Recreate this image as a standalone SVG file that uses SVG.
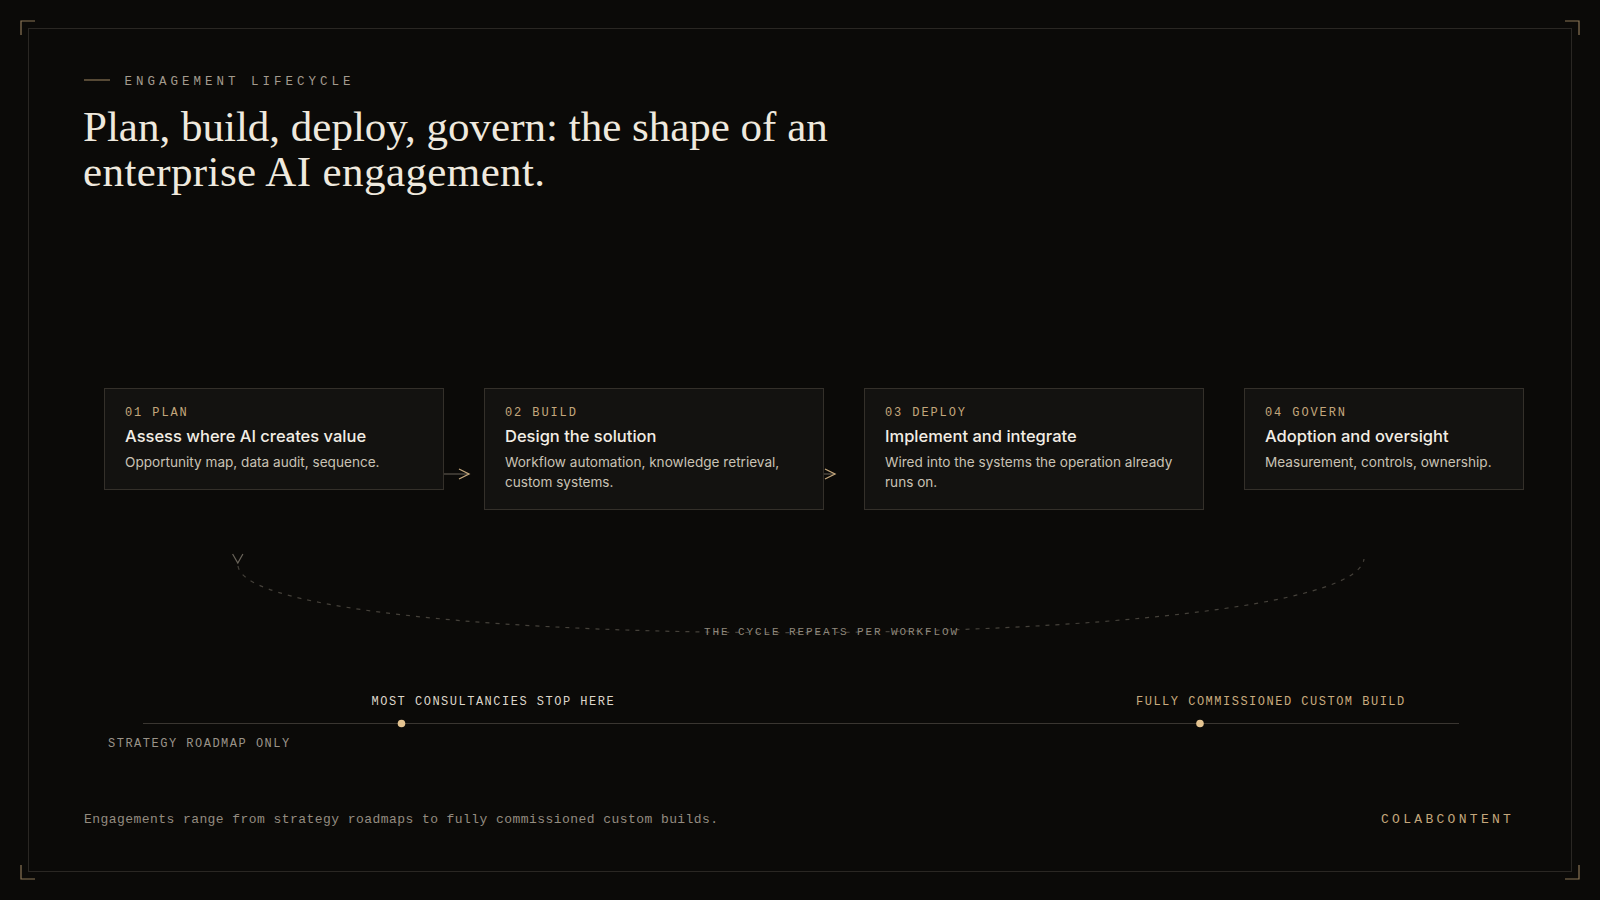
<svg xmlns="http://www.w3.org/2000/svg" width="1600" height="900" viewBox="0 0 1600 900">
<defs>
<style>
.mono{font-family:"Liberation Mono","DejaVu Sans Mono",monospace}
.sans{font-family:Inter,"Noto Sans","Liberation Sans",sans-serif}
.serif{font-family:"Liberation Serif","DejaVu Serif",serif}
.card{fill:#131210;stroke:#34302a;stroke-width:1}
.lbl{font-size:12px;letter-spacing:1.9px;fill:#c4a77c}
.ttl{font-size:16.5px;font-weight:500;fill:#f2ede4}
.dsc{font-size:13.6px;fill:#c9c2b5}
.corner{fill:none;stroke:#8a7555;stroke-width:1.2}
</style>
</defs>
<rect width="1600" height="900" fill="#0b0a08"/>
<rect x="28.5" y="28.5" width="1543" height="843" fill="none" stroke="#2a2723" stroke-width="1"/>
<path class="corner" d="M21 35V21H35M1565 21H1579V35M21 865V879H35M1565 879H1579V865"/>

<g id="header">
<line x1="84" y1="80" x2="110" y2="80" stroke="#8a7454" stroke-width="1.2"/>
<text class="mono" x="124.5" y="85" font-size="12.5" letter-spacing="4" fill="#a39b8e">ENGAGEMENT LIFECYCLE</text>
<text class="serif" x="83" y="141" font-size="43" fill="#efe9de">Plan, build, deploy, govern: the shape of an</text>
<text class="serif" x="83" y="186" font-size="43" letter-spacing="0.4" fill="#efe9de">enterprise AI engagement.</text>
</g>

<g id="connectors" fill="none">
<line x1="444" y1="474" x2="469" y2="474" stroke="#5a544b" stroke-width="1.2"/>
<polyline points="459,469 469,474 459,479" stroke="#c4a77c" stroke-width="1.3"/>
<line x1="811" y1="474" x2="835" y2="474" stroke="#5a544b" stroke-width="1.2"/>
<polyline points="825,469 835,474 825,479" stroke="#c4a77c" stroke-width="1.3"/>
<path d="M238 566C250 656 1352 656 1364 559" stroke="#45413a" stroke-width="1.2" stroke-dasharray="4 6"/>
<polyline points="232.6,554 237.8,563 242.9,554" stroke="#6a645a" stroke-width="1.2"/>
</g>

<g id="plan">
<rect class="card" x="104.5" y="388.5" width="339" height="101"/>
<text class="mono lbl" x="125" y="416">01 PLAN</text>
<text class="sans ttl" x="125" y="442">Assess where AI creates value</text>
<text class="sans dsc" x="125" y="467">Opportunity map, data audit, sequence.</text>
</g>

<g id="build">
<rect class="card" x="484.5" y="388.5" width="339" height="121"/>
<text class="mono lbl" x="505" y="416">02 BUILD</text>
<text class="sans ttl" x="505" y="442">Design the solution</text>
<text class="sans dsc" x="505" y="467">Workflow automation, knowledge retrieval,</text>
<text class="sans dsc" x="505" y="487">custom systems.</text>
</g>

<g id="deploy">
<rect class="card" x="864.5" y="388.5" width="339" height="121"/>
<text class="mono lbl" x="885" y="416">03 DEPLOY</text>
<text class="sans ttl" x="885" y="442">Implement and integrate</text>
<text class="sans dsc" x="885" y="467">Wired into the systems the operation already</text>
<text class="sans dsc" x="885" y="487">runs on.</text>
</g>

<g id="govern">
<rect class="card" x="1244.5" y="388.5" width="279" height="101"/>
<text class="mono lbl" x="1265" y="416">04 GOVERN</text>
<text class="sans ttl" x="1265" y="442">Adoption and oversight</text>
<text class="sans dsc" x="1265" y="467">Measurement, controls, ownership.</text>
</g>

<g id="cycle-label">
<text class="mono" x="831.5" y="634.5" font-size="11" letter-spacing="1.9" fill="#8f887c" text-anchor="middle">THE CYCLE REPEATS PER WORKFLOW</text>
</g>

<g id="spectrum">
<line x1="143" y1="723.5" x2="1459" y2="723.5" stroke="#3a3631" stroke-width="1.2"/>
<circle cx="401.5" cy="723.5" r="3.8" fill="#e4c390"/>
<circle cx="1200" cy="723.5" r="3.8" fill="#e4c390"/>
<text class="mono" x="371.5" y="705" font-size="12" letter-spacing="1.5" fill="#ddd6ca">MOST CONSULTANCIES STOP HERE</text>
<text class="mono" x="1136" y="705" font-size="12" letter-spacing="1.5" fill="#c9ab7e">FULLY COMMISSIONED CUSTOM BUILD</text>
<text class="mono" x="108" y="747" font-size="12" letter-spacing="1.5" fill="#9a9388">STRATEGY ROADMAP ONLY</text>
</g>

<g id="footer">
<text class="mono" x="84" y="823" font-size="13" letter-spacing="0.44" fill="#948c80">Engagements range from strategy roadmaps to fully commissioned custom builds.</text>
<text class="mono" x="1381" y="823" font-size="13" letter-spacing="3.3" fill="#c4a77c">COLABCONTENT</text>
</g>
</svg>
